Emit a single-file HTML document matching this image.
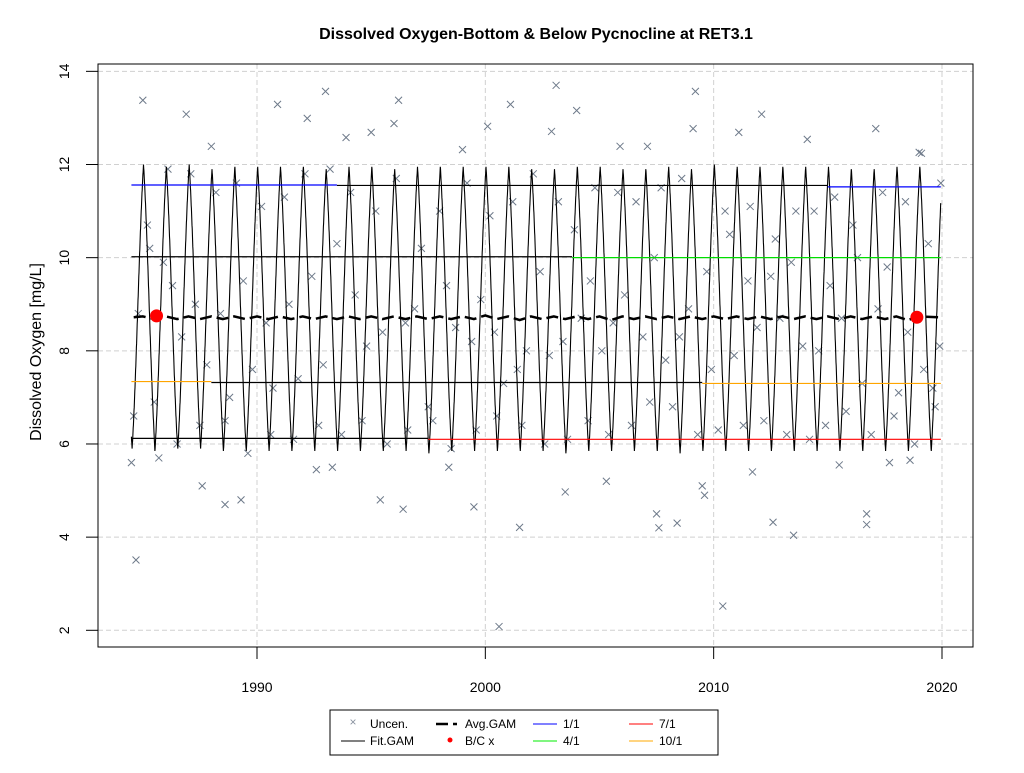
<!DOCTYPE html>
<html><head><meta charset="utf-8"><style>
body{margin:0;background:#fff;font-family:"Liberation Sans",Arial,sans-serif;}
svg text{font-family:"Liberation Sans",Arial,sans-serif;}
</style></head><body>
<svg id="chart" width="1024" height="768" viewBox="0 0 1024 768" xmlns="http://www.w3.org/2000/svg">
<rect x="0" y="0" width="1024" height="768" fill="#fff"/>
<text x="536" y="39" text-anchor="middle" font-size="16" font-weight="bold">Dissolved Oxygen-Bottom &amp; Below Pycnocline at RET3.1</text>
<text transform="translate(41,352) rotate(-90)" text-anchor="middle" font-size="16">Dissolved Oxygen [mg/L]</text>
<g id="grid"></g>
<g id="marks"></g>
<g id="axes"></g>
<rect x="98" y="64" width="875" height="583" fill="none" stroke="#000" stroke-width="1"/>
<g>
<rect x="330" y="710" width="388" height="45" fill="#fff" stroke="#000"/>
<g><text x="353" y="726" text-anchor="middle" font-size="12" fill="#8a93a0">×</text><text x="370" y="728" font-size="12">Uncen.</text></g>
<g><line x1="341" y1="741" x2="365" y2="741" stroke="#000"/><text x="370" y="745" font-size="12">Fit.GAM</text></g>
<g><line x1="436" y1="724" x2="448" y2="724" stroke="#000" stroke-width="2.5"/><line x1="453" y1="724" x2="457" y2="724" stroke="#000" stroke-width="2.5"/><text x="465" y="728" font-size="12">Avg.GAM</text></g>
<g><circle cx="450" cy="740" r="2.5" fill="#f00"/><text x="465" y="745" font-size="12">B/C x</text></g>
<g><line x1="533" y1="724" x2="557" y2="724" stroke="#00f"/><text x="563" y="728" font-size="12">1/1</text></g>
<g><line x1="533" y1="741" x2="557" y2="741" stroke="#0e0"/><text x="563" y="745" font-size="12">4/1</text></g>
<g><line x1="629" y1="724" x2="653" y2="724" stroke="#f00"/><text x="659" y="728" font-size="12">7/1</text></g>
<g><line x1="629" y1="741" x2="653" y2="741" stroke="#fa0"/><text x="659" y="745" font-size="12">10/1</text></g>
</g>
</svg>
<script>
const xTicks=[1990,2000,2010,2020];
const yTicks=[2,4,6,8,10,12,14];
const obsYear=[1985.0,1986.9,1988.0,1990.9,1992.2,1993.0,1993.9,1995.0,1996.0,1996.2,1999.0,2000.1,2001.1,2002.9,2003.1,2004.0,2005.9,2007.1,2009.1,2009.2,2011.1,2012.1,2014.1,2017.1,2019.0,2019.1,
1984.7,1984.5,2000.6,2010.4,2013.5,2012.6,2007.6,2007.5,2008.4,2009.5,2009.6,1999.5,2001.5,2016.7,2016.7,1996.4,1989.3,1988.6,2003.5,1995.4,1987.6,1992.6,1993.3,1998.4,2005.3,2011.7,2015.5,2017.7,2018.6,
1984.6,1984.8,1985.2,1985.3,1985.5,1985.7,1985.9,1986.1,1986.3,1986.5,1986.7,1987.1,1987.3,1987.5,1987.8,1988.2,1988.4,1988.6,1988.8,1989.1,1989.4,1989.6,1989.8,1990.2,1990.4,1990.6,1990.7,1991.2,1991.4,1991.6,1991.8,1992.1,1992.4,1992.7,1992.9,1993.2,1993.5,1993.7,1994.1,1994.3,1994.6,1994.8,1995.2,1995.5,1995.7,1996.1,1996.5,1996.6,1996.9,1997.2,1997.5,1997.7,1998.0,1998.3,1998.5,1998.7,1999.2,1999.4,1999.6,1999.8,2000.2,2000.4,2000.5,2000.8,2001.2,2001.4,2001.6,2001.8,2002.1,2002.4,2002.6,2002.8,2003.2,2003.4,2003.6,2003.9,2004.2,2004.5,2004.6,2004.8,2005.1,2005.4,2005.6,2005.8,2006.1,2006.4,2006.6,2006.9,2007.2,2007.4,2007.7,2007.9,2008.2,2008.5,2008.6,2008.9,2009.3,2009.7,2009.9,2010.2,2010.5,2010.7,2010.9,2011.3,2011.5,2011.6,2011.9,2012.2,2012.5,2012.7,2012.9,2013.2,2013.4,2013.6,2013.9,2014.2,2014.4,2014.6,2014.9,2015.1,2015.3,2015.6,2015.8,2016.1,2016.3,2016.5,2016.9,2017.2,2017.4,2017.6,2017.9,2018.1,2018.4,2018.5,2018.8,2019.2,2019.4,2019.6,2019.7,2019.9,2019.95];
const obsVal=[13.38,13.08,12.39,13.29,12.99,13.57,12.58,12.69,12.88,13.38,12.32,12.82,13.29,12.71,13.70,13.16,12.39,12.39,12.77,13.57,12.69,13.08,12.54,12.77,12.26,12.24,
3.51,5.6,2.08,2.52,4.04,4.32,4.2,4.5,4.3,5.1,4.9,4.65,4.21,4.5,4.27,4.6,4.8,4.7,4.97,4.8,5.1,5.45,5.5,5.5,5.2,5.4,5.55,5.6,5.65,
6.6,8.8,10.7,10.2,6.9,5.7,9.9,11.9,9.4,6.0,8.3,11.8,9.0,6.4,7.7,11.4,8.8,6.5,7.0,11.6,9.5,5.8,7.6,11.1,8.6,6.2,7.2,11.3,9.0,6.1,7.4,11.8,9.6,6.4,7.7,11.9,10.3,6.2,11.4,9.2,6.5,8.1,11.0,8.4,6.0,11.7,8.6,6.3,8.9,10.2,6.8,6.5,11.0,9.4,5.9,8.5,11.6,8.2,6.3,9.1,10.9,8.4,6.6,7.3,11.2,7.6,6.4,8.0,11.8,9.7,6.0,7.9,11.2,8.2,6.1,10.6,8.7,6.5,9.5,11.5,8.0,6.2,8.6,11.4,9.2,6.4,11.2,8.3,6.9,10.0,11.5,7.8,6.8,8.3,11.7,8.9,6.2,9.7,7.6,6.3,11.0,10.5,7.9,6.4,9.5,11.1,8.5,6.5,9.6,10.4,8.7,6.2,9.9,11.0,8.1,6.1,11.0,8.0,6.4,9.4,11.3,8.7,6.7,10.7,10.0,7.3,6.2,8.9,11.4,9.8,6.6,7.1,11.2,8.4,6.0,7.6,10.3,7.2,6.8,8.1,11.6,7.7,6.2,8.4,10.9,7.4,6.9,7.3,8.6,11.0];
const peakYears=[1985,1986,1987,1988,1989,1990,1991,1992,1993,1994,1995,1996,1997,1998,1999,2000,2001,2002,2003,2004,2005,2006,2007,2008,2009,2010,2011,2012,2013,2014,2015,2016,2017,2018,2019,2020];
const peakVals=[12.0,11.95,12.0,11.9,11.95,11.95,11.95,11.95,11.9,11.95,11.95,11.9,11.95,11.95,11.95,11.95,11.95,11.9,11.9,11.95,11.95,11.9,11.9,11.95,11.9,12.0,11.95,11.95,11.95,11.95,11.95,11.9,11.9,11.95,11.95,12.0];
const troughVals=[5.9,5.85,5.9,5.9,5.85,5.85,5.85,5.85,5.85,5.85,5.85,5.85,5.85,5.8,5.85,5.85,5.85,5.85,5.85,5.8,5.85,5.85,5.85,5.85,5.8,5.85,5.85,5.85,5.85,5.85,5.85,5.85,5.85,5.85,5.85,5.85];
const avgYears=[1984.6,1985.0,1985.5,1986.0,1986.5,1987.0,1987.5,1988.0,1988.5,1989.0,1989.5,1990.0,1990.5,1991.0,1991.5,1992.0,1992.5,1993.0,1993.5,1994.0,1994.5,1995.0,1995.5,1996.0,1996.5,1997.0,1997.5,1998.0,1998.5,1999.0,1999.5,2000.0,2000.5,2001.0,2001.5,2002.0,2002.5,2003.0,2003.5,2004.0,2004.5,2005.0,2005.5,2006.0,2006.5,2007.0,2007.5,2008.0,2008.5,2009.0,2009.5,2010.0,2010.5,2011.0,2011.5,2012.0,2012.5,2013.0,2013.5,2014.0,2014.5,2015.0,2015.5,2016.0,2016.5,2017.0,2017.5,2018.0,2018.5,2019.0,2019.9];
const avgVals=[8.72,8.74,8.68,8.74,8.68,8.74,8.68,8.74,8.68,8.74,8.68,8.74,8.68,8.74,8.68,8.74,8.68,8.74,8.68,8.74,8.68,8.74,8.68,8.74,8.68,8.74,8.68,8.74,8.68,8.74,8.68,8.76,8.68,8.74,8.66,8.74,8.68,8.74,8.68,8.74,8.68,8.74,8.66,8.74,8.68,8.74,8.68,8.74,8.68,8.74,8.68,8.74,8.68,8.74,8.68,8.74,8.68,8.74,8.68,8.74,8.68,8.74,8.68,8.74,8.68,8.74,8.68,8.74,8.66,8.74,8.72];
const bcYears=[1985.6,2018.9];
const bcVals=[8.75,8.72];
const seasNames=['jan','apr','jul','oct'];
const seasColors=['#0000ff','#00dd00','#ff0000','#ffa500'];
const seasStart=[[1984.5,1993.5,2015.0],[1984.5,2003.8],[1984.5,1997.5],[1984.5,1988.0,2009.5]];
const seasEnd=[[1993.5,2015.0,2019.95],[2003.8,2019.95],[1997.5,2019.95],[1988.0,2009.5,2019.95]];
const seasVals=[[11.56,11.55,11.52],[10.02,10.0],[6.12,6.1],[7.34,7.32,7.3]];
const seasSig=[[1,0,1],[0,1],[0,1],[1,0,1]];

const NS='http://www.w3.org/2000/svg';
const X=y=>257+(y-1990)*22.833;
const Y=v=>630.3-(v-2)*46.58;
function mk(tag,parent,attrs){const e=document.createElementNS(NS,tag);for(const k in attrs)e.setAttribute(k,attrs[k]);parent.appendChild(e);return e;}
const grid=document.getElementById('grid'),marks=document.getElementById('marks'),axes=document.getElementById('axes');
xTicks.forEach(t=>{const l=mk('line',grid,{x1:X(t),x2:X(t),y1:64,y2:647,stroke:'#d0d0d0','stroke-dasharray':'5,3'});


const k=mk('line',axes,{x1:X(t),x2:X(t),y1:647,y2:659,stroke:'#000'});


const tx=mk('text',axes,{x:X(t),y:692,'text-anchor':'middle','font-size':14});tx.textContent=t;

});
yTicks.forEach(t=>{const l=mk('line',grid,{x1:98,x2:973,y1:Y(t),y2:Y(t),stroke:'#d0d0d0','stroke-dasharray':'5,3'});


const k=mk('line',axes,{x1:86,x2:98,y1:Y(t),y2:Y(t),stroke:'#000'});


const tx=mk('text',axes,{transform:`translate(69,${Y(t)}) rotate(-90)`,'text-anchor':'middle','font-size':14});tx.textContent=t;

});
obsYear.forEach((yr,i)=>{const x=X(yr),y=Y(obsVal[i]);
const p=mk('path',marks,{d:`M${x-3.5},${y-3.5}L${x+3.5},${y+3.5}M${x-3.5},${y+3.5}L${x+3.5},${y-3.5}`,stroke:'#6e7a8a','stroke-width':1});

});
let d='';
for(let t=1984.5;t<=2019.95;t+=0.005){const i=Math.min(peakYears.length-1,Math.max(0,Math.round(t)-1985));
const c=Math.cos(2*Math.PI*(t-0.03));const ph=0.35*c+0.65*(2/Math.PI)*Math.asin(c);const pk=peakVals[i],tr=troughVals[i];
const v=(pk+tr)/2+(pk-tr)/2*ph;d+=(d?'L':'M')+X(t).toFixed(1)+','+Y(v).toFixed(1);}
const fit=mk('path',marks,{d:d,fill:'none',stroke:'#000','stroke-width':1.1});


seasStart.forEach((arr,s)=>arr.forEach((st,j)=>{const l=mk('line',marks,{x1:X(st),x2:X(seasEnd[s][j]),y1:Y(seasVals[s][j]),y2:Y(seasVals[s][j]),stroke:seasSig[s][j]?seasColors[s]:'#000','stroke-width':1.2});

}));
const ad=avgYears.map((yr,i)=>(i?'L':'M')+X(yr).toFixed(1)+','+Y(avgVals[i]).toFixed(1)).join('');
const av=mk('path',marks,{d:ad,fill:'none',stroke:'#000','stroke-width':2.5,'stroke-dasharray':'12,5'});


bcYears.forEach((yr,i)=>{const c=mk('circle',marks,{cx:X(yr),cy:Y(bcVals[i]),r:6.5,fill:'#f00'});

});
</script>
</body></html>
